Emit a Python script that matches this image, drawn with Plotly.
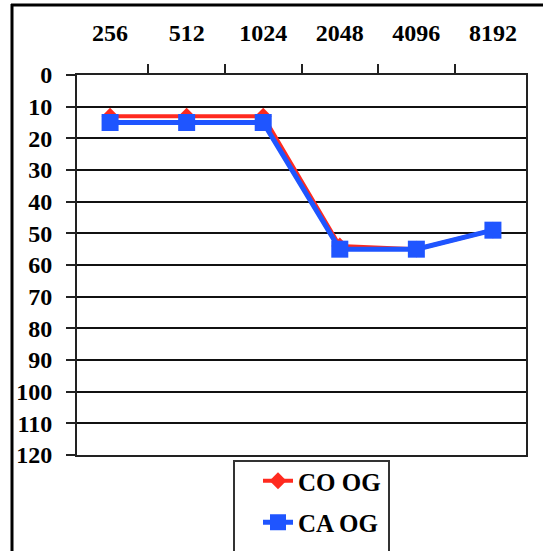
import plotly.graph_objects as go

frequencies = ["256", "512", "1024", "2048", "4096", "8192"]
co_og = [13, 13, 13, 54, 55, 49]
ca_og = [15, 15, 15, 55, 55, 49]
y_ticks = list(range(0, 121, 10))

RED = "#ff2a1f"
BLUE = "#1f55ff"
SERIF = "Liberation Serif"

fig = go.Figure()
fig.add_trace(go.Scatter(
    x=frequencies, y=co_og, name="<b>CO OG</b>", mode="lines+markers", legendgroup="co",
    line=dict(color=RED, width=4),
    marker=dict(symbol="diamond", size=13, color=RED),
))
fig.add_trace(go.Scatter(
    x=frequencies, y=ca_og, name="<b>CA OG</b>", mode="lines+markers", legendgroup="ca",
    line=dict(color=BLUE, width=5),
    marker=dict(symbol="square", size=17, color=BLUE),
))

L, R, T, B = 77, 17, 75, 96
W, H = 543, 551
pw, ph = W - L - R, H - T - B

def px(xp):
    return (xp - L) / pw

def py(yp):
    return (H - B - yp) / ph

tick_font = dict(family=SERIF, size=24, color="black")

fig.update_layout(
    width=W, height=H,
    margin=dict(l=L, r=R, t=T, b=B, autoexpand=False),
    font=dict(family=SERIF, color="black"),
    paper_bgcolor="white", plot_bgcolor="white",
    showlegend=True,
    legend=dict(
        x=px(258), y=py(458), xanchor="left", yanchor="top",
        bgcolor="rgba(0,0,0,0)", borderwidth=0,
        font=dict(family=SERIF, size=25, color="black"),
        itemwidth=30, tracegroupgap=6,
    ),
    xaxis=dict(
        type="category", side="top",
        tickvals=frequencies, ticktext=[f"<b>{f}</b>" for f in frequencies],
        showgrid=False, showline=True, linecolor="#222", linewidth=2, mirror=True,
        ticks="outside", tickson="boundaries", ticklen=9, tickcolor="#222", tickwidth=2,
        tickfont=tick_font, ticklabelstandoff=22,
    ),
    yaxis=dict(
        range=[120, 0], tickvals=y_ticks, ticktext=[f"<b>{v}</b>" for v in y_ticks],
        showgrid=True, gridcolor="#111", gridwidth=2,
        showline=True, linecolor="#222", linewidth=2, mirror=True,
        ticks="outside", ticklen=9, tickcolor="#222", tickwidth=2,
        tickfont=tick_font, ticklabelstandoff=9, zeroline=False,
    ),
    shapes=[
        # outer frame (left and top edges)
        dict(type="line", xref="paper", yref="paper",
             x0=px(12), x1=px(12), y0=py(4), y1=py(560),
             line=dict(color="black", width=3)),
        dict(type="line", xref="paper", yref="paper",
             x0=px(11), x1=px(560), y0=py(5), y1=py(5),
             line=dict(color="black", width=3)),
        # legend box
        dict(type="rect", xref="paper", yref="paper",
             x0=px(234), x1=px(389), y0=py(461), y1=py(600),
             line=dict(color="#333", width=2), fillcolor="rgba(0,0,0,0)"),
    ],
)

fig.write_html("out.html")
